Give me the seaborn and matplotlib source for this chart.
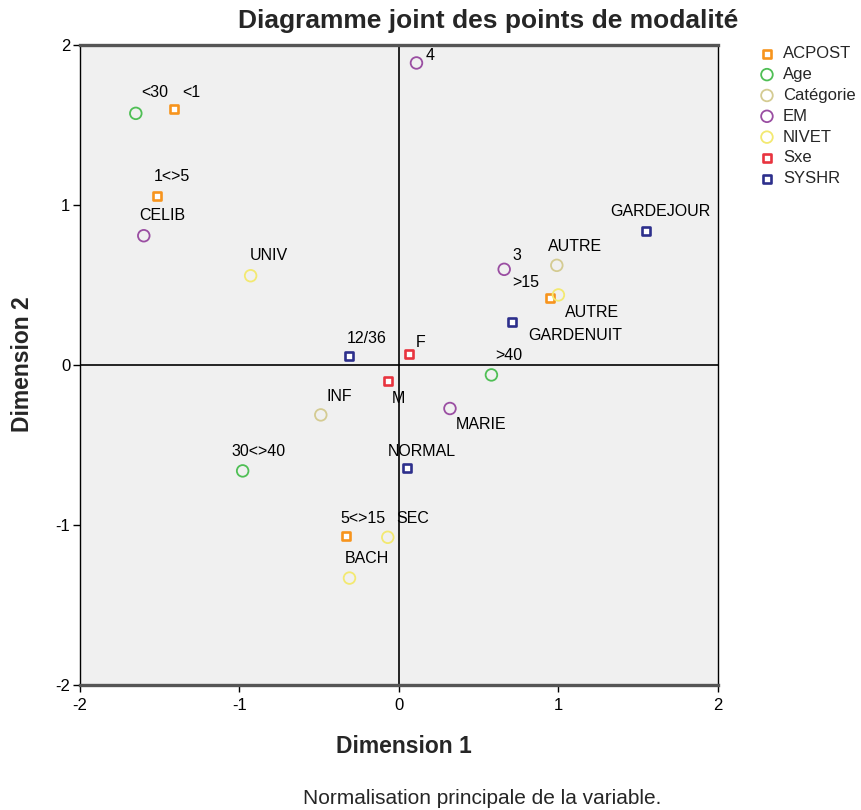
import numpy as np
import pandas as pd
import matplotlib
matplotlib.use("Agg")
import matplotlib.pyplot as plt
import seaborn as sns

# coordonnees des modalites
variables = ["ACPOST", "ACPOST", "ACPOST", "ACPOST",
             "Age", "Age", "Age",
             "Catégorie", "Catégorie",
             "EM", "EM", "EM", "EM",
             "NIVET", "NIVET", "NIVET", "NIVET",
             "Sxe", "Sxe",
             "SYSHR", "SYSHR", "SYSHR", "SYSHR"]
categories = ["<1", "1<>5", ">15", "5<>15",
              "<30", ">40", "30<>40",
              "AUTRE", "INF",
              "4", "CELIB", "3", "MARIE",
              "UNIV", "AUTRE", "SEC", "BACH",
              "F", "M",
              "GARDEJOUR", "GARDENUIT", "12/36", "NORMAL"]
dim1 = [-1.41, -1.52, 0.95, -0.33,
        -1.65, 0.58, -0.98,
        0.99, -0.49,
        0.11, -1.60, 0.66, 0.32,
        -0.93, 1.00, -0.07, -0.31,
        0.06, -0.07,
        1.55, 0.71, -0.31, 0.05]
dim2 = [1.60, 1.06, 0.42, -1.07,
        1.575, -0.06, -0.66,
        0.625, -0.31,
        1.89, 0.81, 0.60, -0.27,
        0.56, 0.44, -1.075, -1.33,
        0.07, -0.10,
        0.84, 0.27, 0.06, -0.64]

legend_order = ["ACPOST", "Age", "Catégorie", "EM", "NIVET", "Sxe", "SYSHR"]
colors = {"ACPOST": "#f7941d", "Age": "#4fbf55", "Catégorie": "#d4cb92",
          "EM": "#9a4ea2", "NIVET": "#f3e971", "Sxe": "#e8343f",
          "SYSHR": "#2d2f8c"}
markers = {"ACPOST": "s", "Age": "o", "Catégorie": "o", "EM": "o",
           "NIVET": "o", "Sxe": "s", "SYSHR": "s"}

# decalage des etiquettes en pixels (x, y)
label_offsets = [(8, 17), (-3, 19), (-38, 16), (-6, 18),
                 (5, 21), (4, 19), (-11, 19),
                 (-9, 19), (6, 18),
                 (9, 7), (-5, 20), (8, 14), (6, -16),
                 (-1, 20), (7, -18), (8, 19), (-5, 20),
                 (7, 12), (4, -17),
                 (-36, 19), (16, -13), (-3, 17), (-19, 16)]

df = pd.DataFrame({"var": variables, "cat": categories, "d1": dim1, "d2": dim2})

sns.set_style("white")
plt.rcParams["font.family"] = ["Liberation Sans", "DejaVu Sans"]
plt.rcParams["axes.unicode_minus"] = False

fig = plt.figure(figsize=(8.62, 8.10), dpi=100)
ax = fig.add_axes([0.0928, 0.154, 0.740, 0.790])
ax.set_facecolor("#f0f0f0")

ax.axhline(0, color="black", lw=1.2, zorder=1)
ax.axvline(0, color="black", lw=1.2, zorder=1)

for v in legend_order:
    sub = df[df["var"] == v]
    if markers[v] == "s":
        sns.scatterplot(data=sub, x="d1", y="d2", ax=ax, marker="s", s=30,
                        color=colors[v], facecolor="white", edgecolor=colors[v],
                        linewidth=1.9, label=v, zorder=3)
    else:
        sns.scatterplot(data=sub, x="d1", y="d2", ax=ax, marker="o", s=70,
                        color=colors[v], facecolor="none", edgecolor=colors[v],
                        linewidth=1.3, label=v, zorder=3)

for (_, row), off in zip(df.iterrows(), label_offsets):
    ax.annotate(row["cat"], (row["d1"], row["d2"]), xytext=off,
                textcoords="offset pixels", ha="left", va="center",
                fontsize=11.5, color="black", zorder=4)

ax.set_xlim(-2, 2)
ax.set_ylim(-2, 2)
ax.set_xticks([-2, -1, 0, 1, 2])
ax.set_yticks([-2, -1, 0, 1, 2])
ax.tick_params(axis="both", direction="out", length=5, width=1, labelsize=12,
               bottom=True, left=True, colors="black")
ax.tick_params(axis="x", pad=4)
ax.tick_params(axis="y", pad=2)

for side in ["top", "bottom"]:
    ax.spines[side].set_linewidth(2.4)
    ax.spines[side].set_color("#555555")
for side in ["left", "right"]:
    ax.spines[side].set_linewidth(1.0)
    ax.spines[side].set_color("black")

ax.set_xlabel("")
ax.set_ylabel("")
fig.text(0.468, 0.078, "Dimension 1", ha="center", va="center",
         fontsize=16.5, fontweight="bold")
fig.text(0.026, 0.551, "Dimension 2", ha="center", va="center",
         fontsize=16.5, fontweight="bold", rotation=90)

fig.text(0.566, 0.974, "Diagramme joint des points de modalité", ha="center",
         va="center", fontsize=19, fontweight="bold")
fig.text(0.559, 0.014, "Normalisation principale de la variable.", ha="center",
         va="center", fontsize=15)

leg = ax.legend(loc="upper left", bbox_to_anchor=(0.882, 0.943),
                bbox_transform=fig.transFigure, frameon=False,
                fontsize=12, handletextpad=0.55, labelspacing=0.35,
                borderaxespad=0, borderpad=0, handlelength=0.8)

fig.savefig("out.png", dpi=100)
